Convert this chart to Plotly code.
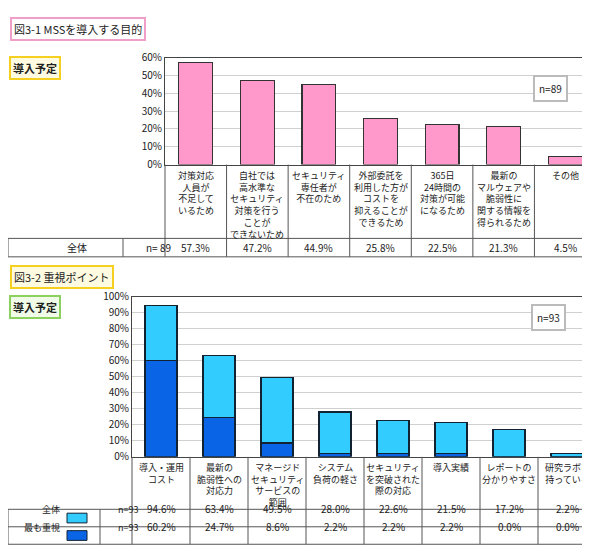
import plotly.graph_objects as go

W, H = 590, 552

# chart 1 data
cats1 = ['対策対応<br>人員が<br>不足して<br>いるため', '自社では<br>高水準な<br>セキュリティ<br>対策を行う<br>ことが<br>できないため',
         'セキュリティ<br>専任者が<br>不在のため', '外部委託を<br>利用した方が<br>コストを<br>抑えることが<br>できるため',
         '365日<br>24時間の<br>対策が可能<br>になるため', '最新の<br>マルウェアや<br>脆弱性に<br>関する情報を<br>得られるため', 'その他']
vals1 = [57.3, 47.2, 44.9, 25.8, 22.5, 21.3, 4.5]

# chart 2 data
cats2 = ['導入・運用<br>コスト', '最新の<br>脆弱性への<br>対応力', 'マネージド<br>セキュリティ<br>サービスの<br>範囲',
         'システム<br>負荷の軽さ', 'セキュリティ<br>を突破された<br>際の対応', '導入実績', 'レポートの<br>分かりやすさ', '研究ラボを<br>持っている']
total2 = [94.6, 63.4, 49.5, 28.0, 22.6, 21.5, 17.2, 2.2]
most2 = [60.2, 24.7, 8.6, 2.2, 2.2, 2.2, 0.0, 0.0]

FONT = "Noto Sans CJK JP"
def px(x): return x / W
def py(y): return 1 - y / H

fig = go.Figure()
n1, n2 = len(cats1), len(cats2)

fig.add_trace(go.Bar(x=list(range(n1)), y=vals1, width=0.55, marker=dict(color='#ff99cc', line=dict(color='#333', width=1.2)),
                     xaxis='x', yaxis='y', showlegend=False))
fig.add_trace(go.Bar(x=list(range(n2)), y=most2, width=0.55, marker=dict(color='#0a64e6', line=dict(color='#123', width=1.2)),
                     xaxis='x2', yaxis='y2', showlegend=False))
fig.add_trace(go.Bar(x=list(range(n2)), y=[t - m for t, m in zip(total2, most2)], width=0.55,
                     marker=dict(color='#33ccff', line=dict(color='#123', width=1.2)),
                     xaxis='x2', yaxis='y2', showlegend=False))

# geometry (pixels)
c1l, c1r, c1t, c1b, c1lab, c1tab = 157, 588, 42, 152, 228, 247
c2l, c2r, c2t, c2b, c2lab, c2r1, c2r2 = 124, 588, 288, 453, 507, 525, 543

ax = dict(showgrid=False, showticklabels=False, zeroline=False, showline=True, linecolor='#444', mirror=True, fixedrange=True)
ay = dict(showgrid=True, gridcolor='#d0d0d0', zeroline=False, showline=True, linecolor='#444', mirror=True,
          ticksuffix='%', tickfont=dict(family=FONT, size=10, color='#222'), fixedrange=True)
fig.update_layout(
    width=W, height=H, margin=dict(l=0, r=0, t=0, b=0), barmode='stack',
    plot_bgcolor='white', paper_bgcolor='white',
    xaxis=dict(ax, domain=[px(c1l), px(c1r)], range=[-0.5, n1 - 0.5], anchor='y'),
    yaxis=dict(ay, domain=[py(c1b), py(c1t)], range=[0, 60], dtick=10, anchor='x'),
    xaxis2=dict(ax, domain=[px(c2l), px(c2r)], range=[-0.5, n2 - 0.5], anchor='y2'),
    yaxis2=dict(ay, domain=[py(c2b), py(c2t)], range=[0, 100], dtick=10, anchor='x2'),
)

ann, shp = [], []
lc = dict(color='#555', width=1)
f9 = dict(family=FONT, size=9, color='#222')
f10 = dict(family=FONT, size=10, color='#222')

# chart 1 labels + table
for i, (c, v) in enumerate(zip(cats1, vals1)):
    ann.append(dict(x=i, xref='x', y=py(c1b + 2), yref='paper', yanchor='top', text=c, showarrow=False, font=f9))
    ann.append(dict(x=i, xref='x', y=py((c1lab + c1tab) / 2), yref='paper', text=f'{v:.1f}%', showarrow=False, font=f10))
for i in range(n1 - 1):
    shp.append(dict(type='line', xref='x', x0=i + 0.5, x1=i + 0.5, yref='paper', y0=py(c1b), y1=py(c1tab), line=lc))
shp.append(dict(type='line', xref='paper', x0=px(c1l), x1=px(c1l), yref='paper', y0=py(c1b), y1=py(c1tab), line=lc))
shp.append(dict(type='line', xref='paper', x0=px(c1r), x1=px(c1r), yref='paper', y0=py(c1b), y1=py(c1tab), line=lc))
shp.append(dict(type='rect', xref='paper', x0=0, x1=px(c1r), yref='paper', y0=py(c1lab), y1=py(c1tab), line=lc))
shp.append(dict(type='line', xref='paper', x0=px(115), x1=px(115), yref='paper', y0=py(c1lab), y1=py(c1tab), line=lc))
ann.append(dict(x=px(57), xref='paper', y=py((c1lab + c1tab) / 2), yref='paper', text='全体', showarrow=False, font=f10))
ann.append(dict(x=px(136), xref='paper', y=py((c1lab + c1tab) / 2), yref='paper', text='n= 89', showarrow=False, font=f10))

# chart 2 labels + table
for i, c in enumerate(cats2):
    ann.append(dict(x=i, xref='x2', y=py(c2b + 2), yref='paper', yanchor='top', text=c, showarrow=False, font=f9))
    ann.append(dict(x=i, xref='x2', y=py((c2lab + c2r1) / 2), yref='paper', text=f'{total2[i]:.1f}%', showarrow=False, font=f10))
    ann.append(dict(x=i, xref='x2', y=py((c2r1 + c2r2) / 2), yref='paper', text=f'{most2[i]:.1f}%', showarrow=False, font=f10))
for i in range(n2 - 1):
    shp.append(dict(type='line', xref='x2', x0=i + 0.5, x1=i + 0.5, yref='paper', y0=py(c2b), y1=py(c2r2), line=lc))
shp.append(dict(type='line', xref='paper', x0=px(c2l), x1=px(c2l), yref='paper', y0=py(c2b), y1=py(c2r2), line=lc))
shp.append(dict(type='line', xref='paper', x0=px(c2r), x1=px(c2r), yref='paper', y0=py(c2b), y1=py(c2r2), line=lc))
shp.append(dict(type='rect', xref='paper', x0=0, x1=px(c2r), yref='paper', y0=py(c2lab), y1=py(c2r2), line=lc))
shp.append(dict(type='line', xref='paper', x0=0, x1=px(c2r), yref='paper', y0=py(c2r1), y1=py(c2r1), line=lc))
shp.append(dict(type='line', xref='paper', x0=px(92), x1=px(92), yref='paper', y0=py(c2lab), y1=py(c2r2), line=lc))
for (ya, yb), lab, col in [((c2lab, c2r1), '全体', '#33ccff'), ((c2r1, c2r2), '最も重視', '#0a64e6')]:
    ym = (ya + yb) / 2
    ann.append(dict(x=px(54), xref='paper', xanchor='right', y=py(ym), yref='paper', text=lab, showarrow=False, font=f9))
    shp.append(dict(type='rect', xref='paper', x0=px(59), x1=px(79), yref='paper', y0=py(ya + 4), y1=py(yb - 4),
                    fillcolor=col, line=dict(color='#123', width=1)))
    ann.append(dict(x=px(108), xref='paper', y=py(ym), yref='paper', text='n=93', showarrow=False, font=f9))

# boxes
def box(x, y, text, border, bg='white', size=11):
    ann.append(dict(x=px(x), xref='paper', xanchor='left', y=py(y), yref='paper', yanchor='middle', text=text, showarrow=False,
                    font=dict(family=FONT, size=size, color='#222'), bordercolor=border, borderwidth=2, borderpad=2, bgcolor=bg))
box(2, 12, '図3-1 MSSを導入する目的', '#f0a0c8')
box(1, 53, '<b>導入予定</b>', '#f5d020', '#fffbe0')
box(2, 268, '図3-2 重視ポイント', '#f5d020', '#fffbe0')
box(1, 299, '<b>導入予定</b>', '#8cd060', '#f0fbe8')
for x, y, t in [(560, 60, 'n=89'), (558, 309, 'n=93')]:
    ann.append(dict(x=px(x), xref='paper', y=py(y), yref='paper', text=t, showarrow=False, font=f10,
                    bordercolor='#bbb', borderwidth=2, borderpad=4, bgcolor='white'))

fig.update_layout(annotations=ann, shapes=shp)
fig.write_html("out.html")
